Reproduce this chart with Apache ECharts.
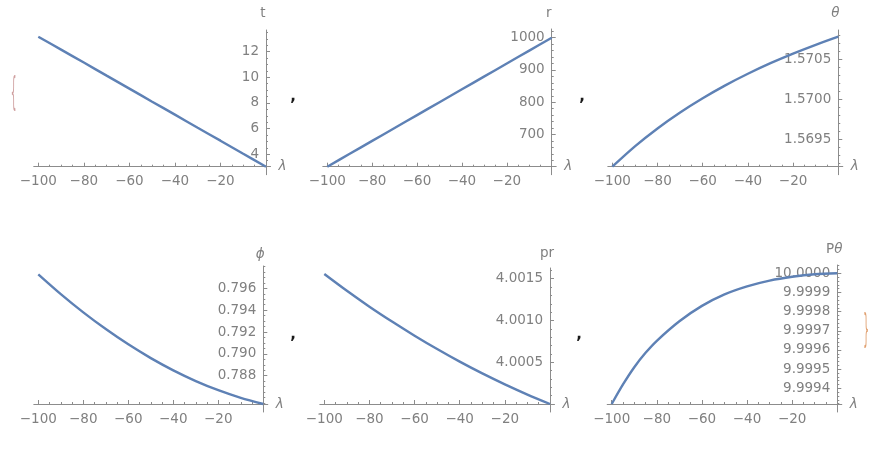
<!DOCTYPE html>
<html><head><meta charset="utf-8">
<script src="https://cdn.jsdelivr.net/npm/echarts@6/dist/echarts.min.js"></script>
<style>html,body{margin:0;padding:0;background:#fff}#c{width:890px;height:456px}</style>
</head><body><div id="c"></div>
<script>
// ---- data ----
const lambda = [-100, -90, -80, -70, -60, -50, -40, -30, -20, -10, 0];
const tValues = [13.17, 12.16, 11.15, 10.13, 9.12, 8.10, 7.09, 6.07, 5.06, 4.04, 3.03];
const rValues = [600, 640, 680, 720, 760, 800, 840, 880, 920, 960, 1000];
const thetaValues = [1.569158, 1.569412, 1.569636, 1.569835, 1.570013, 1.570174, 1.570319, 1.570451, 1.570571, 1.570681, 1.570783];
const phiValues = [0.79728, 0.79547, 0.79380, 0.79227, 0.79087, 0.78961, 0.78849, 0.78751, 0.78667, 0.78597, 0.78541];
const prValues = [4.001556, 4.001355, 4.001165, 4.000987, 4.000818, 4.000658, 4.000507, 4.000366, 4.000235, 4.000113, 4.0000];
const lambdaP = [-100, -95, -90, -85, -80, -70, -60, -50, -40, -30, -20, -10, 0];
const pthetaValues = [9.999318, 9.999420, 9.999510, 9.999585, 9.999648, 9.999750, 9.999830, 9.999890, 9.999932, 9.999962, 9.999982, 9.999995, 10.0000];

// ---- tick labels ----
const xMajorTicks = [-100, -80, -60, -40, -20, 0];
const xTickLabels = [-100, -80, -60, -40, -20];
const tTicks = [4, 6, 8, 10, 12];
const rTicks = [700, 800, 900, 1000];
const thetaTicks = [1.5695, 1.5700, 1.5705];
const phiTicks = [0.788, 0.790, 0.792, 0.794, 0.796];
const prTicks = [4.0005, 4.0010, 4.0015];
const pthetaTicks = [9.9994, 9.9995, 9.9996, 9.9997, 9.9998, 9.9999, 10.0000];

const FONT = 'DejaVu Sans';
const FS = 13.5;
const LABEL = '#808080';
const AXIS = '#8c8c8c';
const LINE = '#5E81B5';
const XMIN = -102, XMAX = 2;
const BELOW = 8; // y axis line runs a little below the lambda axis

const panels = [
  {x: lambda, y: tValues, ticks: tTicks, dec: 0, minor: 0.5, left: 33.75, top: 30, width: 236.8, height: 136.7, ymin: 3.03, ymax: 13.69, name: 't', gap: 10, italic: false},
  {x: lambda, y: rValues, ticks: rTicks, dec: 0, minor: 20, left: 322.8, top: 29, width: 233.4, height: 137.7, ymin: 600, ymax: 1027, name: 'r', gap: 9, italic: false},
  {x: lambda, y: thetaValues, ticks: thetaTicks, dec: 4, minor: 0.0001, left: 607.8, top: 30, width: 235.0, height: 136.7, ymin: 1.569158, ymax: 1.570866, name: 'θ', gap: 10, italic: true},
  {x: lambda, y: phiValues, ticks: phiTicks, dec: 3, minor: 0.0005, left: 33.8, top: 266, width: 234.0, height: 138, ymin: 0.78541, ymax: 0.798041, name: 'ϕ', gap: 5, italic: true},
  {x: lambda, y: prValues, ticks: prTicks, dec: 4, minor: 0.0001, left: 319.8, top: 268, width: 234.7, height: 136, ymin: 4.0000, ymax: 4.001628, name: 'pr', gap: 8, italic: false},
  {x: lambdaP, y: pthetaValues, ticks: pthetaTicks, dec: 4, minor: 0.00002, left: 607.2, top: 265, width: 234.6, height: 139, ymin: 9.999318, ymax: 10.0000433, name: '{u|P}{i|θ}', gap: 9, italic: false}
];

function minors(lo, hi, step, majors) {
  const out = [];
  const k0 = Math.ceil(lo / step - 1e-6), k1 = Math.floor(hi / step + 1e-6);
  for (let k = k0; k <= k1; k++) {
    const v = +(k * step).toFixed(8);
    if (!majors.some(m => Math.abs(m - v) < step * 0.01)) out.push(v);
  }
  return out;
}
const xMinorTicks = minors(XMIN, XMAX, 5, xMajorTicks);

const grid = [], xAxis = [], yAxis = [], series = [];
panels.forEach((p, i) => {
  const scale = p.width / (XMAX - XMIN);
  const zeroX = p.left + (0 - XMIN) * scale;
  const yPerPx = (p.ymax - p.ymin) / p.height;
  const yminB = p.ymin - BELOW * yPerPx;
  grid.push({left: p.left, top: p.top, width: p.width, height: p.height, containLabel: false, outerBoundsMode: 'none'});
  grid.push({left: zeroX, top: p.top, width: p.left + p.width - zeroX, height: p.height + BELOW, containLabel: false, outerBoundsMode: 'none'});
  const gA = 2 * i, gB = 2 * i + 1;
  const xi = xAxis.length, yi = yAxis.length;
  xAxis.push({
    type: 'value', gridIndex: gA, min: XMIN, max: XMAX, position: 'bottom',
    name: 'λ', nameLocation: 'end', nameGap: 8,
    nameTextStyle: {color: LABEL, fontFamily: FONT, fontSize: FS, fontStyle: 'italic'},
    axisLine: {show: true, onZero: false, lineStyle: {color: AXIS, width: 1}},
    axisTick: {show: true, inside: true, length: 4, customValues: xMajorTicks, lineStyle: {color: AXIS}},
    axisLabel: {show: true, margin: 8, customValues: xTickLabels, color: LABEL, fontFamily: FONT, fontSize: FS,
      formatter: v => String(v).replace('-', '−')},
    splitLine: {show: false}
  });
  xAxis.push({
    type: 'value', gridIndex: gA, min: XMIN, max: XMAX, position: 'bottom',
    axisLine: {show: false, onZero: false},
    axisTick: {show: true, inside: true, length: 2, customValues: xMinorTicks, lineStyle: {color: AXIS}},
    axisLabel: {show: false}, splitLine: {show: false}
  });
  xAxis.push({type: 'value', gridIndex: gB, min: 0, max: 1, show: false, axisLine: {onZero: false}});
  yAxis.push({type: 'value', gridIndex: gA, min: p.ymin, max: p.ymax, show: false, axisLine: {onZero: false}, splitLine: {show: false}});
  yAxis.push({
    type: 'value', gridIndex: gB, min: yminB, max: p.ymax, position: 'left',
    name: p.name, nameLocation: 'end', nameGap: p.gap,
    nameTextStyle: {color: LABEL, fontFamily: FONT, fontSize: FS, fontStyle: p.italic ? 'italic' : 'normal', padding: [0, 6, 0, 0],
      rich: {u: {color: LABEL, fontFamily: FONT, fontSize: FS}, i: {color: LABEL, fontFamily: FONT, fontSize: FS, fontStyle: 'italic'}}},
    axisLine: {show: true, onZero: false, lineStyle: {color: AXIS, width: 1}},
    axisTick: {show: true, inside: true, length: 4, customValues: p.ticks, lineStyle: {color: AXIS}},
    axisLabel: {show: true, margin: 7, customValues: p.ticks, color: LABEL, fontFamily: FONT, fontSize: FS,
      formatter: v => Number(v).toFixed(p.dec)},
    splitLine: {show: false}
  });
  yAxis.push({
    type: 'value', gridIndex: gB, min: yminB, max: p.ymax, position: 'left',
    axisLine: {show: false, onZero: false},
    axisTick: {show: true, inside: true, length: 2, customValues: minors(p.ymin, p.ymax, p.minor, p.ticks), lineStyle: {color: AXIS}},
    axisLabel: {show: false}, splitLine: {show: false}
  });
  series.push({
    type: 'line', xAxisIndex: xi, yAxisIndex: yi,
    data: p.x.map((xv, j) => [xv, p.y[j]]),
    smooth: 0.3, showSymbol: false, symbol: 'none',
    lineStyle: {color: LINE, width: 2.4}, silent: true, animation: false, clip: false
  });
});

const commaStyle = {text: ',', fontSize: 15, fontWeight: 'bold', fontFamily: FONT, fill: '#1a1a1a', align: 'center', verticalAlign: 'middle'};
const graphic = [
  {type: 'text', x: 293, y: 97, style: Object.assign({}, commaStyle)},
  {type: 'text', x: 582, y: 97, style: Object.assign({}, commaStyle)},
  {type: 'text', x: 293, y: 335, style: Object.assign({}, commaStyle)},
  {type: 'text', x: 579, y: 335, style: Object.assign({}, commaStyle)},
  {type: 'text', x: 13.5, y: 95, scaleX: 0.6, scaleY: 2.6, style: {text: '{', fontSize: 15, fontFamily: FONT, fill: '#cf9f9f', align: 'center', verticalAlign: 'middle'}},
  {type: 'text', x: 866, y: 332, scaleX: 0.6, scaleY: 2.6, style: {text: '}', fontSize: 15, fontFamily: FONT, fill: '#e0a070', align: 'center', verticalAlign: 'middle'}}
];

const chart = echarts.init(document.getElementById('c'), null, {renderer: 'canvas'});
chart.setOption({animation: false, backgroundColor: '#fff', grid, xAxis, yAxis, series, graphic});
</script></body></html>
